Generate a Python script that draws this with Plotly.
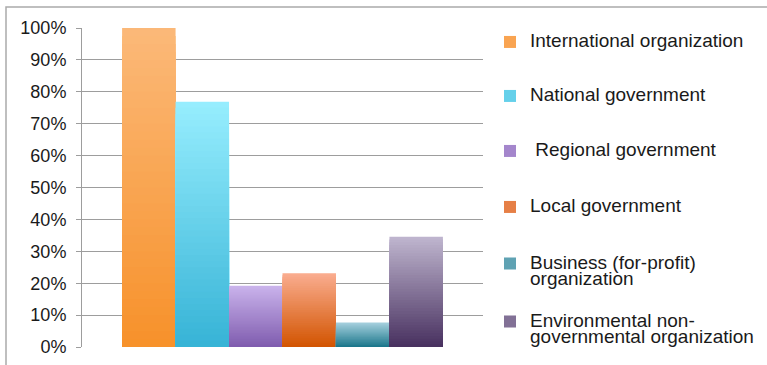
import plotly.graph_objects as go

# Respondent shares by type of organization (one category, six series)
series_names = [
    "International organization",
    "National government",
    "\u00a0Regional government",
    "Local government",
    "Business (for-profit)<br>organization",
    "Environmental non-<br>governmental organization",
]
share_values = [1.0, 0.769, 0.192, 0.231, 0.077, 0.346]

# Vertical gradient for each bar: colour at the top, colour at the base
top_colors = ["#FBB979", "#97EEFE", "#CAB3EC", "#FAAD90", "#A7D1DE", "#BFB6CF"]
bottom_colors = ["#F7912A", "#36B3D6", "#7F5CAE", "#D25400", "#1A768B", "#48305F"]

tick_values = [i / 10 for i in range(11)]
tick_labels = [f"{i * 10}%" for i in range(11)]

# Legend rows: pixel centre of each entry
legend_centres_px = [42, 96, 151, 207, 272, 330]

W, H = 767, 365
ML, MR, MT, MB = 82, 284, 28, 18
PW, PH = W - ML - MR, H - MT - MB

FONT = "Liberation Sans, Arial, Helvetica, sans-serif"
TEXT = "#1a1a1a"
GRID = "#9d9d9d"
LAYERS = 40


def mix(c1, c2, t):
    a = [int(c1[j:j + 2], 16) for j in (1, 3, 5)]
    b = [int(c2[j:j + 2], 16) for j in (1, 3, 5)]
    return "#" + "".join(f"{round(x + (y - x) * t):02x}" for x, y in zip(a, b))


def legend_label(name):
    return "<br>".join(
        f'<span style="font-size:19px">{part}</span>' for part in name.split("<br>")
    )


fig = go.Figure()

for i, (name, value, c_top, c_bot) in enumerate(
    zip(series_names, share_values, top_colors, bottom_colors)
):
    legend_id = "legend" if i == 0 else f"legend{i + 1}"
    # Nested bars sharing one slot: the full-height bar first, then shorter
    # ones on top of it, each a step further toward the base colour.
    for k in range(LAYERS):
        fig.add_trace(
            go.Bar(
                x=[0],
                y=[value * (LAYERS - k) / LAYERS],
                offsetgroup=str(i),
                name=legend_label(name),
                legend=legend_id,
                legendgroup=str(i),
                showlegend=(k == LAYERS // 2),
                marker=dict(color=mix(c_top, c_bot, (k + 0.5) / LAYERS),
                            line=dict(width=0)),
                hoverinfo="skip" if k else "y",
            )
        )

layout_legends = {}
for i, yc in enumerate(legend_centres_px):
    legend_id = "legend" if i == 0 else f"legend{i + 1}"
    layout_legends[legend_id] = dict(
        x=(490 - ML) / PW,
        xanchor="left",
        y=(H - MB - yc) / PH,
        yanchor="middle",
        valign="top",
        bgcolor="rgba(0,0,0,0)",
        borderwidth=0,
        font=dict(family=FONT, size=13, color=TEXT),
    )

fig.update_layout(
    width=W,
    height=H,
    autosize=False,
    margin=dict(l=ML, r=MR, t=MT, b=MB, pad=0, autoexpand=False),
    paper_bgcolor="white",
    plot_bgcolor="white",
    barmode="group",
    bargap=0.2,
    bargroupgap=0,
    font=dict(family=FONT, color=TEXT),
    xaxis=dict(
        range=[-0.5, 0.5],
        showticklabels=False,
        showgrid=False,
        zeroline=False,
        showline=False,
        ticks="",
        fixedrange=True,
    ),
    yaxis=dict(
        range=[0, 1],
        tickvals=tick_values,
        ticktext=tick_labels,
        ticks="outside",
        ticklen=5,
        tickwidth=1,
        tickcolor=GRID,
        ticklabelstandoff=6,
        showline=True,
        linecolor=GRID,
        linewidth=1,
        showgrid=True,
        gridcolor=GRID,
        gridwidth=1,
        zeroline=False,
        tickfont=dict(family=FONT, size=18, color=TEXT),
        fixedrange=True,
    ),
    shapes=[
        dict(
            type="rect",
            xref="paper",
            yref="paper",
            x0=(6 - ML) / PW,
            x1=(W + 10 - ML) / PW,
            y0=(H - MB - (H + 10)) / PH,
            y1=(H - MB - 7) / PH,
            line=dict(color="#ababab", width=1.5),
            fillcolor="rgba(0,0,0,0)",
            layer="below",
        )
    ],
    **layout_legends,
)

fig.write_html("out.html", config={"displayModeBar": False})
